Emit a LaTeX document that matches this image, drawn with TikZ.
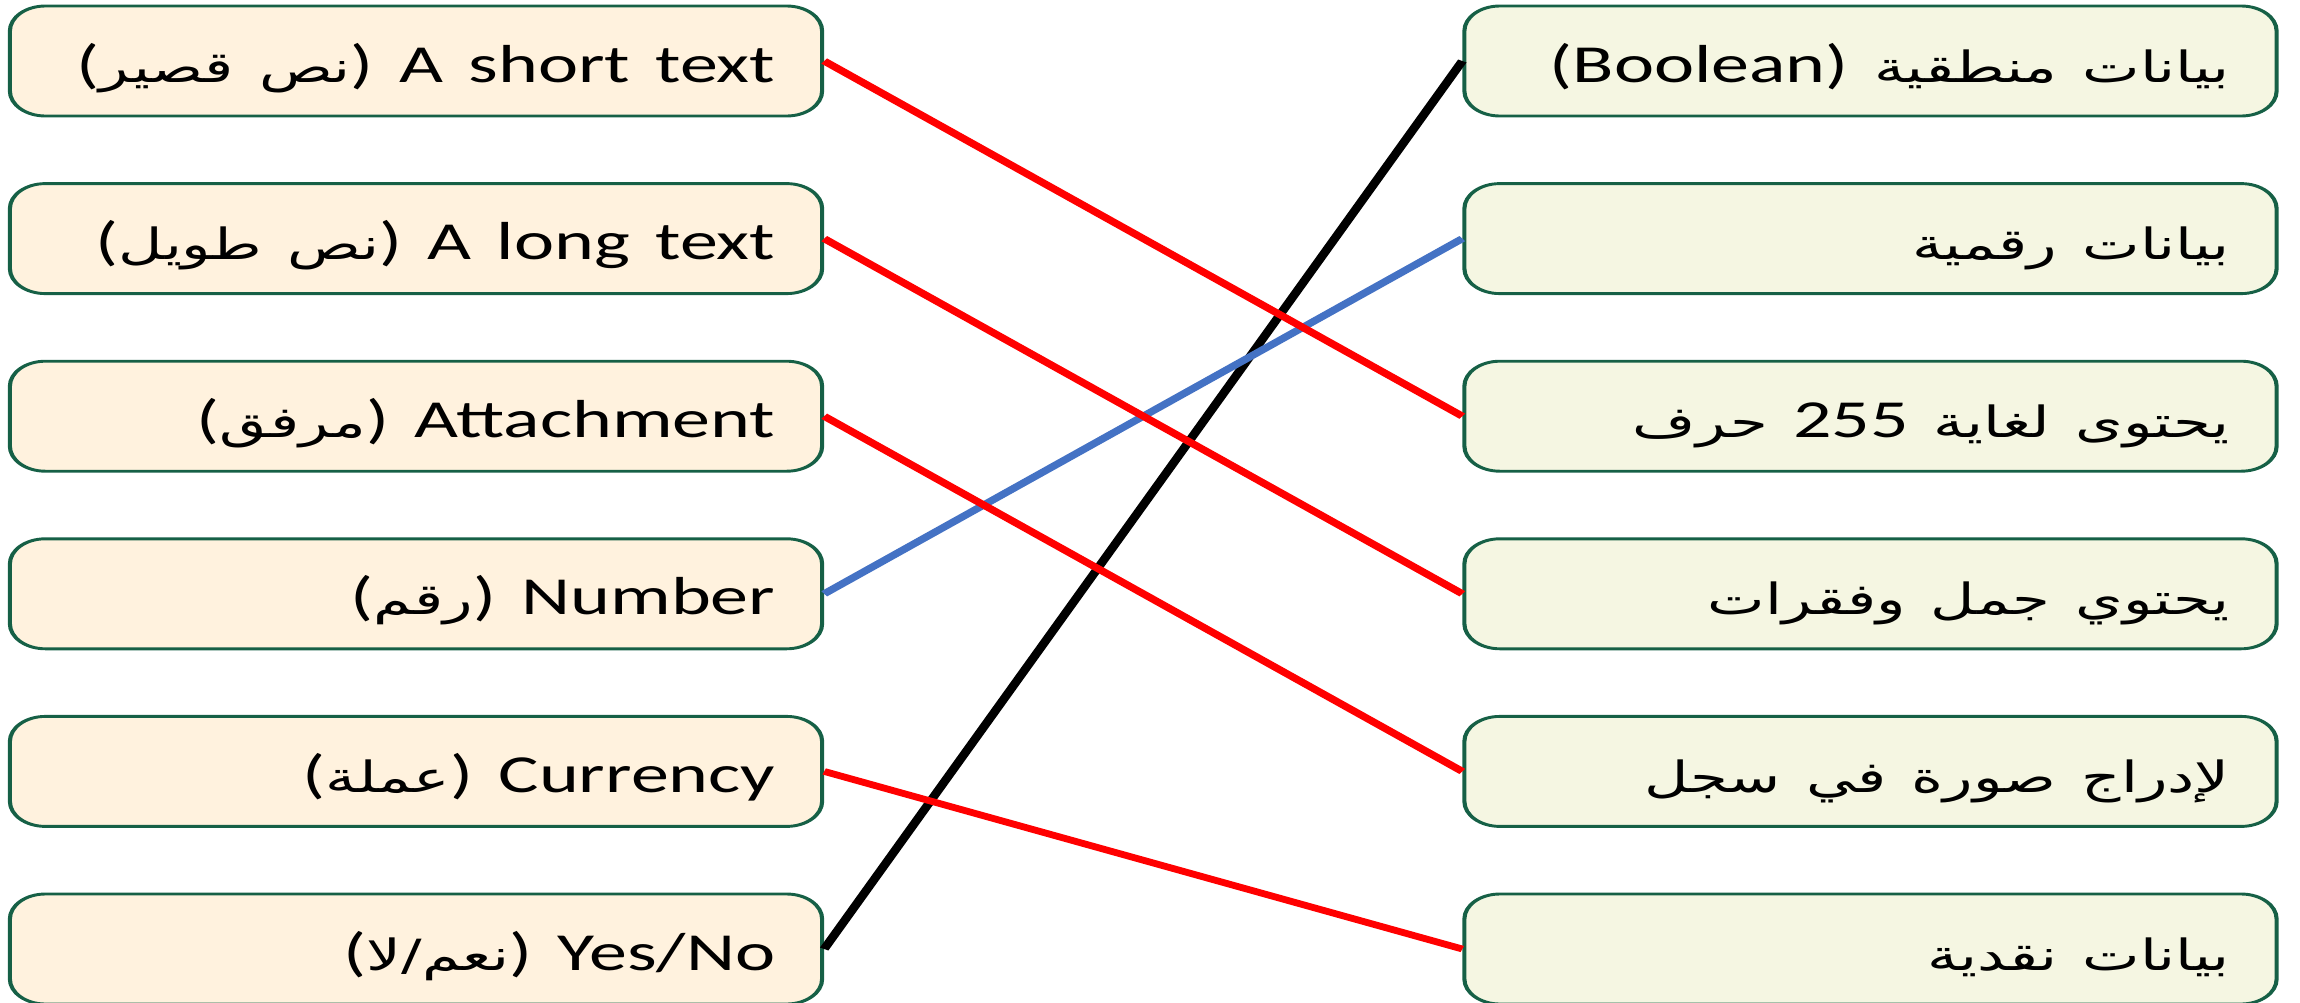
\documentclass[tikz,border=0pt]{standalone}
\usepackage{fontspec}
\setmainfont{Carlito}
\newfontfamily\arabicfont[Script=Arabic,WordSpace=0.7]{DejaVu Sans}
\TeXXeTstate=1
\definecolor{leftfill}{HTML}{FFF2DE}
\definecolor{rightfill}{HTML}{F5F6E2}
\definecolor{boxline}{RGB}{22,96,70}
\definecolor{linkblue}{HTML}{4472C4}
\definecolor{linkred}{HTML}{FF0000}
\newcommand\arsize{\fontsize{43}{50}\selectfont}
\newcommand\latsize{\fontsize{53.5}{60}\selectfont}
\newcommand\ar[1]{{\arabicfont\arsize\beginR#1\endR}}
\newcommand\lat[1]{{\rmfamily\latsize\beginL#1\endL}}
\tikzset{
  card/.style={draw=boxline, line width=2.9pt, rounded corners=25pt,
    minimum width=572pt, minimum height=110pt, inner xsep=33pt, inner ysep=0pt,
    text width=506pt, align=right, text height=50pt, text depth=8pt,
    font=\latsize},
  lcard/.style={card, fill=leftfill},
  rcard/.style={card, fill=rightfill},
  link/.style={line width=6.6pt}
}
\begin{document}
\begin{tikzpicture}[x=1pt,y=-1pt]
\useasboundingbox (0,0) rectangle (2300,1002);
\begin{scope}[transform canvas={xscale=1.42}]
  % left column
  \node[lcard] (l1) at (292.96,61)    {(\ar{نص قصير}) A short text};
  \node[lcard] (l2) at (292.96,238.6) {(\ar{نص طويل}) A long text};
  \node[lcard] (l3) at (292.96,416.2) {(\ar{مرفق}) Attachment};
  \node[lcard] (l4) at (292.96,593.8) {(\ar{رقم}) Number};
  \node[lcard] (l5) at (292.96,771.4) {(\ar{عملة}) Currency};
  \node[lcard] (l6) at (292.96,949)   {(\ar{نعم/لا}) Yes/No};
  % right column
  \node[rcard] (r1) at (1317.25,61)    {\ar{بيانات منطقية \lat{(Boolean)}}};
  \node[rcard] (r2) at (1317.25,238.6) {\ar{بيانات رقمية}};
  \node[rcard] (r3) at (1317.25,416.2) {\ar{يحتوى لغاية \lat{255} حرف}};
  \node[rcard] (r4) at (1317.25,593.8) {\ar{يحتوي جمل وفقرات}};
  \node[rcard] (r5) at (1317.25,771.4) {\ar{لإدراج صورة في سجل}};
  \node[rcard] (r6) at (1317.25,949)   {\ar{بيانات نقدية}};
  % connectors
  \draw[link, black]    (l6.east) -- (r1.west);
  \draw[link, linkblue] (l4.east) -- (r2.west);
  \draw[link, linkred]  (l1.east) -- (r3.west);
  \draw[link, linkred]  (l2.east) -- (r4.west);
  \draw[link, linkred]  (l3.east) -- (r5.west);
  \draw[link, linkred]  (l5.east) -- (r6.west);
\end{scope}
\end{tikzpicture}
\end{document}
